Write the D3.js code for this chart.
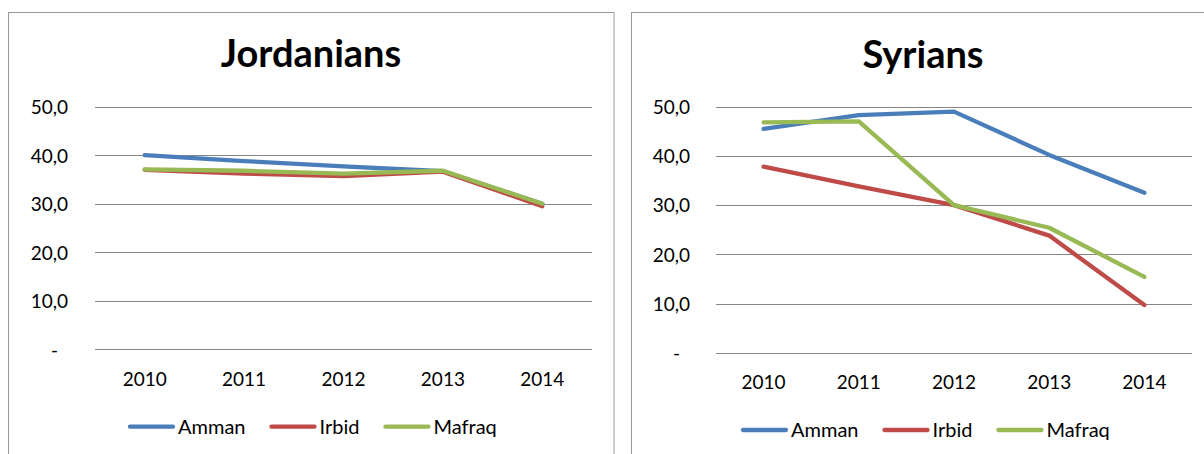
<!DOCTYPE html>
<html>
<head>
<meta charset="utf-8">
<script src="https://cdn.jsdelivr.net/npm/d3@7"></script>
<style>
  html, body { margin: 0; padding: 0; background: #fff; }
  svg { display: block; }
  text { font-family: Lato, "Open Sans", sans-serif; fill: #000; }
</style>
</head>
<body>
<svg id="chart" width="1204" height="454"></svg>
<script>
// ---- data ----
const years = ["2010", "2011", "2012", "2013", "2014"];
const seriesNames = ["Amman", "Irbid", "Mafraq"];
const yTicks = [0, 10, 20, 30, 40, 50];

const jordanianTitle = "Jordanians";
const jordanianAmman  = [40.0, 38.8, 37.7, 36.7, 30.0];
const jordanianIrbid  = [37.0, 36.2, 35.7, 36.6, 29.5];
const jordanianMafraq = [37.1, 36.8, 36.2, 36.8, 30.0];

const syrianTitle = "Syrians";
const syrianAmman  = [45.5, 48.3, 49.0, 40.2, 32.5];
const syrianIrbid  = [37.8, 33.8, 30.0, 23.8, 9.7];
const syrianMafraq = [46.8, 47.0, 30.0, 25.4, 15.4];

// ---- styles / layout ----
const colors = { Amman: "#4A7EBB", Irbid: "#BE4B48", Mafraq: "#98B954" };

const panels = [
  { title: jordanianTitle, values: [jordanianAmman, jordanianIrbid, jordanianMafraq],
    box: { x: 8.5, y: 12.5, w: 605.5, h: 460 },
    plot: { x0: 95, x1: 592, y0: 349.3, y1: 106.7 },
    titleX: 311, titleY: 67, labelPad: 27, xLabelY: 386.5,
    legendX: 128, legendY: 426.7 },
  { title: syrianTitle, values: [syrianAmman, syrianIrbid, syrianMafraq],
    box: { x: 631.5, y: 12.5, w: 600, h: 460 },
    plot: { x0: 716, x1: 1192, y0: 352.7, y1: 106.7 },
    titleX: 923, titleY: 68, labelPad: 26, xLabelY: 389.5,
    legendX: 741, legendY: 430 }
];

const locale = d3.formatLocale({ decimal: ",", thousands: ".", grouping: [3], currency: ["", ""] });
const fmt = locale.format(".1f");
const tickFormat = v => v === 0 ? "-" : fmt(v);

const svg = d3.select("#chart");

panels.forEach(p => {
  const g = svg.append("g");

  g.append("rect")
    .attr("x", p.box.x).attr("y", p.box.y)
    .attr("width", p.box.w).attr("height", p.box.h)
    .attr("fill", "#fff").attr("stroke", "#9a9a9a").attr("stroke-width", 1);

  g.append("text")
    .attr("x", p.titleX).attr("y", p.titleY)
    .attr("text-anchor", "middle")
    .style("font-weight", "bold").style("font-size", "38px")
    .text(p.title);

  const x = d3.scaleBand().domain(years).range([p.plot.x0, p.plot.x1]);
  const y = d3.scaleLinear().domain([0, 50]).range([p.plot.y0, p.plot.y1]);
  const w = p.plot.x1 - p.plot.x0;

  // y axis with gridlines
  const yAxis = g.append("g")
    .attr("transform", `translate(${p.plot.x0},0)`)
    .call(d3.axisLeft(y).tickValues(yTicks).tickFormat(tickFormat)
      .tickSize(-w).tickSizeOuter(0).tickPadding(p.labelPad));
  yAxis.select(".domain").remove();
  yAxis.selectAll(".tick line").attr("stroke", "#868686").attr("stroke-width", 1)
    .attr("shape-rendering", "crispEdges");
  yAxis.selectAll(".tick text")
    .style("font-size", "19px").style("font-family", "Lato, sans-serif")
    .attr("fill", "#000").attr("dy", "0.36em")
    .attr("x", d => d === 0 ? -p.labelPad - 10 : -p.labelPad);

  // x axis labels
  const xAxis = g.append("g")
    .attr("transform", `translate(0,${p.plot.y0})`)
    .call(d3.axisBottom(x).tickSize(0).tickSizeOuter(0));
  xAxis.select(".domain").remove();
  xAxis.selectAll(".tick text")
    .style("font-size", "19px").style("font-family", "Lato, sans-serif")
    .attr("fill", "#000").attr("dy", 0)
    .attr("y", p.xLabelY - p.plot.y0);

  // lines
  const line = d3.line()
    .x((d, i) => x(years[i]) + x.bandwidth() / 2)
    .y(d => y(d));

  seriesNames.forEach((name, si) => {
    g.append("path")
      .datum(p.values[si])
      .attr("d", line)
      .attr("fill", "none")
      .attr("stroke", colors[name])
      .attr("stroke-width", 4.3)
      .attr("stroke-linecap", "round")
      .attr("stroke-linejoin", "round");
  });

  // legend
  let lx = p.legendX;
  seriesNames.forEach(name => {
    g.append("line")
      .attr("x1", lx + 2).attr("x2", lx + 45)
      .attr("y1", p.legendY).attr("y2", p.legendY)
      .attr("stroke", colors[name]).attr("stroke-width", 4.3)
      .attr("stroke-linecap", "round");
    const t = g.append("text")
      .attr("x", lx + 50).attr("y", p.legendY + 6.8)
      .style("font-size", "20px")
      .text(name);
    lx = lx + 50 + t.node().getComputedTextLength() + 24;
  });
});
</script>
</body>
</html>
